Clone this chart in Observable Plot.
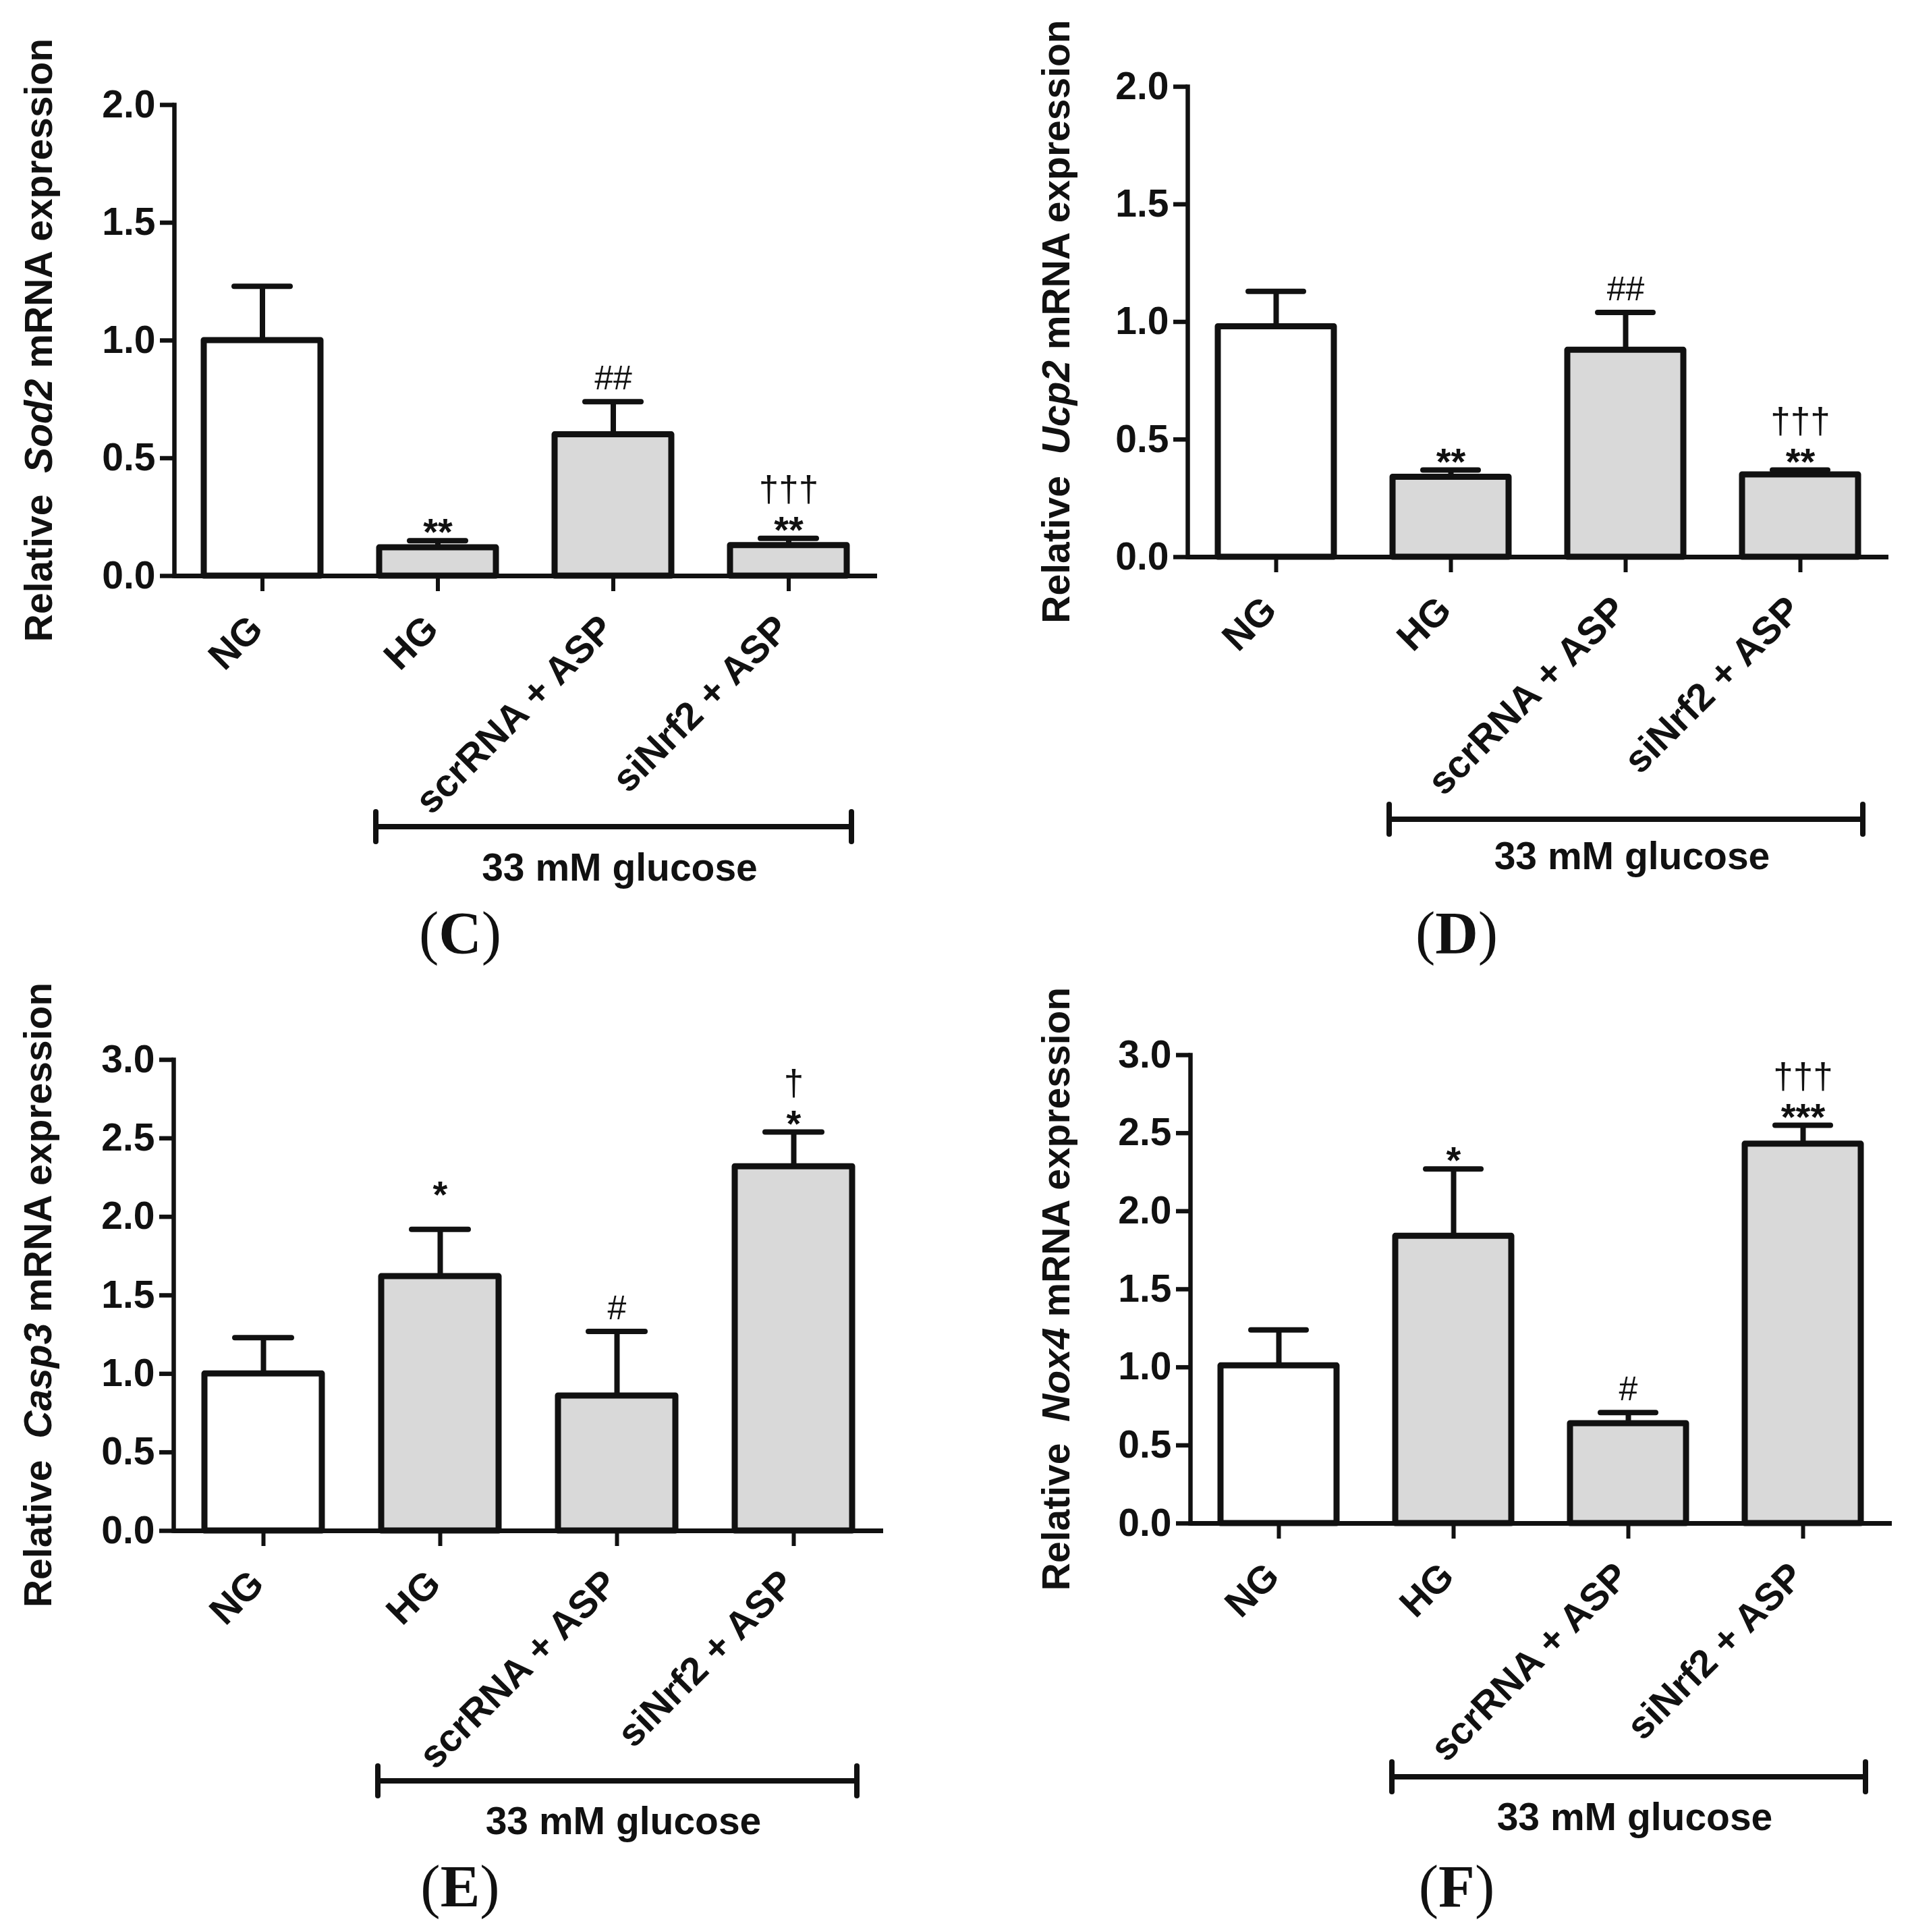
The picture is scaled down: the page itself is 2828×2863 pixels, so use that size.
<!DOCTYPE html>
<html><head><meta charset="utf-8">
<script src="https://cdn.jsdelivr.net/npm/d3@7"></script>
<script src="https://cdn.jsdelivr.net/npm/@observablehq/plot@0.6"></script>
<style>
body{margin:0;background:#fff;}
#fig{position:relative;width:2828px;height:2863px;background:#fff;}
.panel{position:absolute;}
</style></head><body><div id="fig"></div>
<script>
// ---- data ----
const groups = ["NG", "HG", "scrRNA + ASP", "siNrf2 + ASP"];
const sod2Mean = [1.00, 0.12, 0.60, 0.13];
const sod2Err  = [1.23, 0.15, 0.74, 0.16];
const sod2Stars = ["", "**", "", "**"];
const sod2Marks = ["", "", "##", "†††"];
const ucp2Mean = [0.98, 0.34, 0.88, 0.35];
const ucp2Err  = [1.13, 0.37, 1.04, 0.37];
const ucp2Stars = ["", "**", "", "**"];
const ucp2Marks = ["", "", "##", "†††"];
const casp3Mean = [1.00, 1.62, 0.86, 2.32];
const casp3Err  = [1.23, 1.92, 1.27, 2.54];
const casp3Stars = ["", "*", "", "*"];
const casp3Marks = ["", "", "#", "†"];
const nox4Mean = [1.01, 1.84, 0.64, 2.43];
const nox4Err  = [1.24, 2.27, 0.71, 2.55];
const nox4Stars = ["", "*", "", "***"];
const nox4Marks = ["", "", "#", "†††"];
const yTicks2 = [0, 0.5, 1.0, 1.5, 2.0];
const yTicks3 = [0, 0.5, 1.0, 1.5, 2.0, 2.5, 3.0];
const genes = ["Sod2", "Ucp2", "Casp3", "Nox4"];
const panelLetters = ["C", "D", "E", "F"];
const bracketLabel = "33 mM glucose";
const bracketGroups = ["HG", "siNrf2 + ASP"];

// ---- layout (pixels) ----
const layouts = [
  {left:0,    top:0,    w:1414, h:1431, mL:258, mT:155, axis:853, right:1300, yMax:2, ticks:yTicks2, titleX:77,  bracketY:1225, glucoseY:1305, letterX:682, letterY:1412, raisedStar:null},
  {left:1414, top:0,    w:1414, h:1431, mL:346, mT:128, axis:825, right:1385, yMax:2, ticks:yTicks2, titleX:171, bracketY:1214, glucoseY:1288, letterX:745, letterY:1412, raisedStar:null},
  {left:0,    top:1431, w:1414, h:1432, mL:257, mT:139, axis:837, right:1309, yMax:3, ticks:yTicks3, titleX:76,  bracketY:1208, glucoseY:1287, letterX:682, letterY:1394, raisedStar:"HG"},
  {left:1414, top:1431, w:1414, h:1432, mL:350, mT:132, axis:826, right:1390, yMax:3, ticks:yTicks3, titleX:171, bracketY:1202, glucoseY:1281, letterX:745, letterY:1394, raisedStar:null}
];
const series = [
  [sod2Mean, sod2Err, sod2Stars, sod2Marks],
  [ucp2Mean, ucp2Err, ucp2Stars, ucp2Marks],
  [casp3Mean, casp3Err, casp3Stars, casp3Marks],
  [nox4Mean, nox4Err, nox4Stars, nox4Marks]
];

const INK = "#111";
const SANS = "'Liberation Sans', Arial, sans-serif";
const SERIF = "'Liberation Serif', 'Times New Roman', serif";
const fig = document.getElementById("fig");

series.forEach(([mean, err, stars, marks], i) => {
  const L = layouts[i];
  const rows = groups.map((g, j) => ({group: g, mean: mean[j], err: err[j], stars: stars[j], marks: marks[j]}));
  const chart = Plot.plot({
    width: L.w, height: L.h,
    marginLeft: L.mL, marginRight: L.w - L.right, marginTop: L.mT, marginBottom: L.h - L.axis,
    style: {fontFamily: SANS, background: "transparent", overflow: "visible", color: INK},
    x: {domain: groups, type: "band", paddingInner: 0.334, paddingOuter: 0.168, axis: null},
    y: {domain: [0, L.yMax], axis: null},
    marks: [
      Plot.barY(rows, {x: "group", y: "mean", fill: d => d.group === "NG" ? "#ffffff" : "#d9d9d9", stroke: INK, strokeWidth: 9, strokeLinejoin: "round"}),
      Plot.ruleX(rows, {x: "group", y1: "mean", y2: "err", stroke: INK, strokeWidth: 8}),
      Plot.tickY(rows, {x: "group", y: "err", stroke: INK, strokeWidth: 8, strokeLinecap: "round", insetLeft: 45, insetRight: 45}),
      Plot.axisY({ticks: L.ticks, tickFormat: d3.format(".1f"), tickSize: 21, tickPadding: 7, fontSize: 57, fontWeight: "bold", strokeWidth: 6.5, label: null}),
      Plot.frame({anchor: "left", stroke: INK, strokeWidth: 6.5}),
      Plot.ruleY([0], {stroke: INK, strokeWidth: 7}),
      Plot.axisX({tickSize: 23, tickFormat: () => "", strokeWidth: 6, label: null}),
      Plot.text(rows, {x: "group", frameAnchor: "bottom", text: "group", rotate: -45, textAnchor: "end", lineAnchor: "middle", dx: -9, dy: 69, fontSize: 57, fontWeight: "bold", fill: INK}),
      Plot.text(rows.filter(d => d.stars && d.group !== L.raisedStar), {x: "group", y: "err", text: "stars", lineAnchor: "bottom", dy: 6, fontSize: 56, fontWeight: "bold", fill: INK}),
      Plot.text(rows.filter(d => d.stars && d.group === L.raisedStar), {x: "group", y: "err", text: "stars", lineAnchor: "bottom", dy: -33, fontSize: 56, fontWeight: "bold", fill: INK}),
      Plot.text(rows.filter(d => d.marks && d.stars), {x: "group", y: "err", text: "marks", lineAnchor: "bottom", dy: -55, fontSize: 53, fill: INK}),
      Plot.text(rows.filter(d => d.marks && !d.stars), {x: "group", y: "err", text: "marks", lineAnchor: "bottom", dy: -18, fontSize: 50, fill: INK})
    ]
  });

  const svg = d3.select(chart);
  const xs = chart.scale("x");
  const bx0 = xs.apply(bracketGroups[0]) - 5;
  const bx1 = xs.apply(bracketGroups[1]) + xs.bandwidth + 7;

  // y-axis title with italic gene name
  const t = svg.append("text")
    .attr("transform", `translate(${L.titleX},${(L.mT + L.axis) / 2}) rotate(-90)`)
    .attr("text-anchor", "middle")
    .attr("font-family", SANS).attr("font-size", 57).attr("font-weight", "bold").attr("fill", INK);
  t.append("tspan").text("Relative\u00a0\u00a0");
  t.append("tspan").attr("font-style", "italic").text(genes[i]);
  t.append("tspan").text(" mRNA expression");

  // bracket under the high-glucose groups
  const g = svg.append("g").attr("stroke", INK).attr("stroke-width", 8).attr("stroke-linecap", "round");
  g.append("line").attr("x1", bx0).attr("x2", bx1).attr("y1", L.bracketY).attr("y2", L.bracketY).attr("stroke-linecap", "butt");
  g.append("line").attr("x1", bx0).attr("x2", bx0).attr("y1", L.bracketY - 22).attr("y2", L.bracketY + 22);
  g.append("line").attr("x1", bx1).attr("x2", bx1).attr("y1", L.bracketY - 22).attr("y2", L.bracketY + 22);
  svg.append("text")
    .attr("x", (bx0 + bx1) / 2 + 9).attr("y", L.glucoseY)
    .attr("text-anchor", "middle").attr("font-family", SANS).attr("font-size", 57).attr("font-weight", "bold").attr("fill", INK)
    .text(bracketLabel);

  // panel letter
  const pl = svg.append("text")
    .attr("x", L.letterX).attr("y", L.letterY)
    .attr("text-anchor", "middle").attr("font-family", SERIF).attr("font-size", 88).attr("fill", INK);
  pl.append("tspan").text("(");
  pl.append("tspan").attr("font-weight", "bold").text(panelLetters[i]);
  pl.append("tspan").text(")");

  const div = document.createElement("div");
  div.className = "panel";
  div.style.left = L.left + "px";
  div.style.top = L.top + "px";
  div.appendChild(chart);
  fig.appendChild(div);
});
</script>
</body></html>
